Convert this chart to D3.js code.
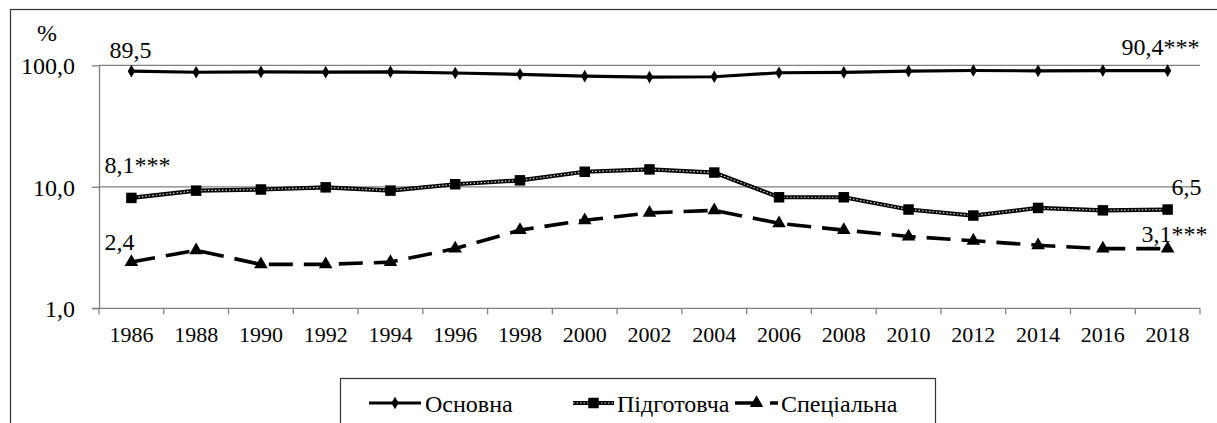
<!DOCTYPE html>
<html>
<head>
<meta charset="utf-8">
<script src="https://cdn.jsdelivr.net/npm/d3@7"></script>
<style>
    body { margin: 0; background: #fff; }
    svg { display: block; font-family: 'Liberation Serif', 'Times New Roman', serif; }
</style>
</head>
<body>
<svg class="chart" width="1217" height="423"></svg>
<script>
// data
const years = ['1986', '1988', '1990', '1992', '1994', '1996', '1998', '2000', '2002',
    '2004', '2006', '2008', '2010', '2012', '2014', '2016', '2018'];
const osnovna = [89.5, 87.7, 88.2, 87.8, 88.3, 86.4, 84.3, 81.4, 80.0,
    80.5, 86.8, 87.4, 89.6, 90.6, 90.0, 90.5, 90.4];
const pidgotovcha = [8.1, 9.3, 9.5, 9.9, 9.3, 10.5, 11.3, 13.3, 13.9,
    13.1, 8.2, 8.2, 6.5, 5.8, 6.7, 6.4, 6.5];
const specialna = [2.4, 3.0, 2.3, 2.3, 2.4, 3.1, 4.4, 5.3, 6.1,
    6.4, 5.0, 4.4, 3.9, 3.6, 3.3, 3.1, 3.1];
const yTicks = [1, 10, 100];
const seriesNames = ['Основна', 'Підготовча', 'Спеціальна'];

const svg = d3.select('.chart');
const plotLeft = 99, plotRight = 1200, plotTop = 65.3, plotBottom = 308.3;
const axisColor = '#7f7f7f';

// outer frame
svg.append('rect')
    .attr('x', 10.5).attr('y', 9.5)
    .attr('width', 1240).attr('height', 440)
    .attr('fill', '#fff')
    .attr('stroke', '#333').attr('stroke-width', 1.2);

const x = d3.scaleBand().domain(years).range([plotLeft, plotRight]).padding(0);
const y = d3.scaleLog().domain([1, 100]).range([plotBottom, plotTop]);
const cx = d => x(d) + x.bandwidth() / 2;
const fmt = v => d3.format('.1f')(v).replace('.', ',');

// gridlines
svg.append('g')
    .selectAll('line')
    .data(yTicks.filter(t => t > 1))
    .enter().append('line')
    .attr('x1', plotLeft).attr('x2', plotRight)
    .attr('y1', d => y(d)).attr('y2', d => y(d))
    .attr('stroke', axisColor).attr('stroke-width', 1.3);

// y axis
const yAxis = svg.append('g')
    .attr('transform', `translate(${plotLeft},0)`)
    .call(d3.axisLeft(y).tickValues(yTicks).tickFormat(fmt).tickSize(7).tickSizeOuter(0).tickPadding(17));
yAxis.select('.domain').attr('stroke', axisColor).attr('stroke-width', 1.3);
yAxis.selectAll('.tick line').attr('stroke', axisColor).attr('stroke-width', 1.3);
yAxis.selectAll('text')
    .attr('font-family', 'Liberation Serif')
    .attr('font-size', 24)
    .attr('fill', '#000')
    .attr('dy', '0.36em');

svg.append('text')
    .attr('x', 47).attr('y', 41)
    .attr('text-anchor', 'middle')
    .attr('font-size', 24)
    .text('%');

// x axis: line, ticks at band edges, labels at band centers
svg.append('line')
    .attr('x1', plotLeft - 7).attr('x2', plotRight)
    .attr('y1', plotBottom).attr('y2', plotBottom)
    .attr('stroke', axisColor).attr('stroke-width', 1.3);

svg.append('g')
    .selectAll('line')
    .data(years.map(d => x(d)).concat([plotRight]))
    .enter().append('line')
    .attr('x1', d => d).attr('x2', d => d)
    .attr('y1', plotBottom).attr('y2', plotBottom + 6)
    .attr('stroke', axisColor).attr('stroke-width', 1.3);

svg.append('g')
    .selectAll('text')
    .data(years)
    .enter().append('text')
    .attr('x', d => cx(d))
    .attr('y', 341.5)
    .attr('text-anchor', 'middle')
    .attr('font-size', 22)
    .text(d => d);

// lines
const line = d3.line()
    .x((d, i) => cx(years[i]))
    .y(d => y(d));

svg.append('path')
    .datum(osnovna)
    .attr('d', line)
    .attr('fill', 'none')
    .attr('stroke', '#000')
    .attr('stroke-width', 3.2);

svg.append('path')
    .datum(pidgotovcha)
    .attr('d', line)
    .attr('fill', 'none')
    .attr('stroke', '#000')
    .attr('stroke-width', 4.2);
svg.append('path')
    .datum(pidgotovcha)
    .attr('d', line)
    .attr('fill', 'none')
    .attr('stroke', '#ddd')
    .attr('stroke-width', 1.2)
    .attr('stroke-dasharray', '1.5,2');

svg.append('path')
    .datum(specialna)
    .attr('d', line)
    .attr('fill', 'none')
    .attr('stroke', '#000')
    .attr('stroke-width', 3.6)
    .attr('stroke-dasharray', '24,11');

// markers
const diamond = d3.symbol().type(d3.symbolDiamond).size(46);
const square = d3.symbol().type(d3.symbolSquare).size(110);
const triangle = d3.symbol().type(d3.symbolTriangle).size(80);

function markers(values, sym) {
    svg.append('g')
        .selectAll('path')
        .data(values)
        .enter().append('path')
        .attr('d', sym)
        .attr('transform', (d, i) => `translate(${cx(years[i])},${y(d)})`)
        .attr('fill', '#000');
}
markers(osnovna, diamond);
markers(pidgotovcha, square);
markers(specialna, triangle);

// value labels at the first and last points
const first = years[0], last = years[years.length - 1];
const labels = [
    {year: first, v: osnovna[0], text: '89,5', dx: -22, dy: -13, anchor: 'start'},
    {year: last, v: osnovna[osnovna.length - 1], text: '90,4***', dx: 32, dy: -16, anchor: 'end'},
    {year: first, v: pidgotovcha[0], text: '8,1***', dx: -27, dy: -25, anchor: 'start'},
    {year: last, v: pidgotovcha[pidgotovcha.length - 1], text: '6,5', dx: 34, dy: -15, anchor: 'end'},
    {year: first, v: specialna[0], text: '2,4', dx: -27, dy: -12, anchor: 'start'},
    {year: last, v: specialna[specialna.length - 1], text: '3,1***', dx: 40, dy: -7, anchor: 'end'}
];
svg.append('g')
    .selectAll('text')
    .data(labels)
    .enter().append('text')
    .attr('x', d => cx(d.year) + d.dx)
    .attr('y', d => y(d.v) + d.dy)
    .attr('text-anchor', d => d.anchor)
    .attr('font-size', 24)
    .text(d => d.text);

// legend
svg.append('rect')
    .attr('x', 340.5).attr('y', 378.5)
    .attr('width', 595).attr('height', 80)
    .attr('fill', '#fff')
    .attr('stroke', '#333').attr('stroke-width', 1.2);

const legendY = 403;
const legendItems = [
    {name: seriesNames[0], x0: 369, x1: 421, tx: 425, sym: diamond, width: 3.2, dash: null},
    {name: seriesNames[1], x0: 573, x1: 614, tx: 617, sym: square, width: 4.2, dash: null},
    {name: seriesNames[2], x0: 735, x1: 778, tx: 781, sym: triangle, width: 3.6, dash: '24,11'}
];
const lg = svg.append('g')
    .selectAll('g')
    .data(legendItems)
    .enter().append('g');

lg.append('line')
    .attr('x1', d => d.x0).attr('x2', d => d.x1)
    .attr('y1', legendY).attr('y2', legendY)
    .attr('stroke', '#000')
    .attr('stroke-width', d => d.width)
    .attr('stroke-dasharray', d => d.dash);
lg.filter((d, i) => i === 1).append('line')
    .attr('x1', d => d.x0).attr('x2', d => d.x1)
    .attr('y1', legendY).attr('y2', legendY)
    .attr('stroke', '#ddd')
    .attr('stroke-width', 1.2)
    .attr('stroke-dasharray', '1.5,2');
lg.append('path')
    .attr('d', d => d.sym())
    .attr('transform', d => `translate(${(d.x0 + d.x1) / 2},${legendY})`)
    .attr('fill', '#000');
lg.append('text')
    .attr('x', d => d.tx)
    .attr('y', legendY + 8.5)
    .attr('font-size', 24)
    .text(d => d.name);
</script>
</body>
</html>
